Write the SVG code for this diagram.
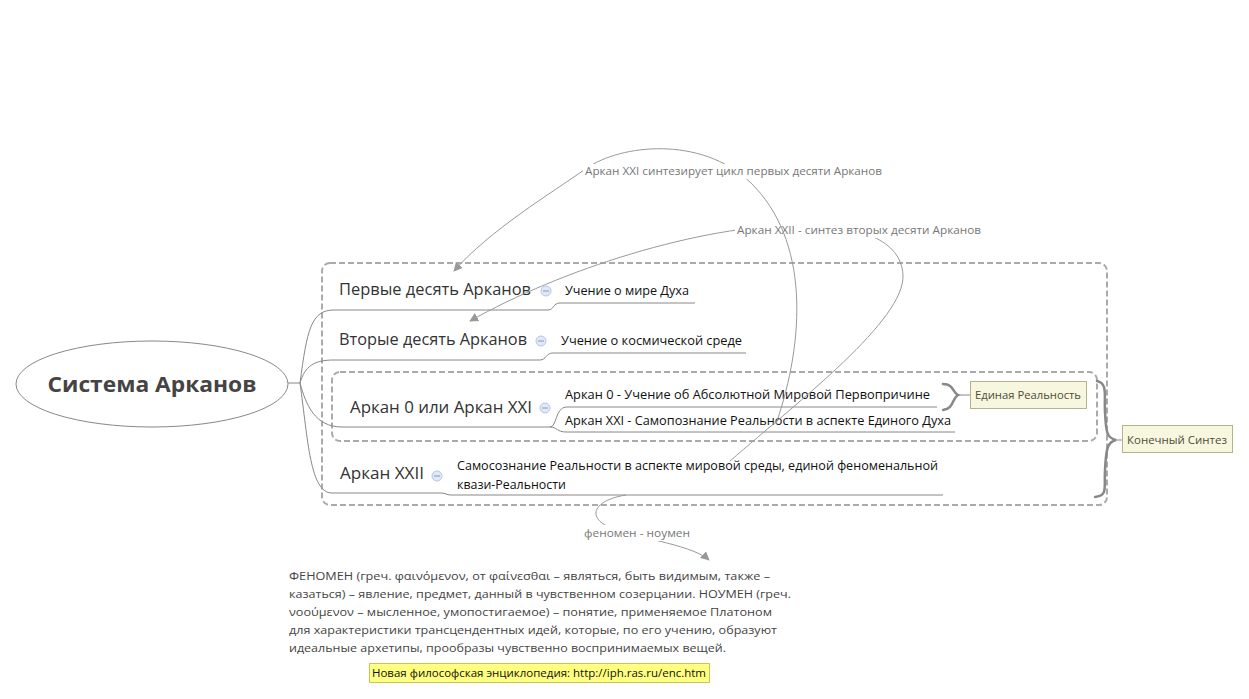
<svg xmlns="http://www.w3.org/2000/svg" width="1249" height="699" viewBox="0 0 1249 699">
<style>
  text { font-family: "Open Sans", "Noto Sans", "DejaVu Sans", sans-serif; }
  .topic { font-size: 16px; fill: #333; }
  .sub { font-size: 12.5px; fill: #111; }
  .rel { font-size: 11px; fill: #777; }
  .note { font-size: 11.5px; fill: #444; }
  .conn { fill: none; stroke: #888; stroke-width: 1; }
  .relc { fill: none; stroke: #999; stroke-width: 1; }
  .dash { fill: none; stroke: #aaa; stroke-width: 2; stroke-dasharray: 6 3; }
  .brace { fill: none; stroke: #888; stroke-width: 2.5; stroke-linecap: round; }
  .icon circle { fill: #e2e9f5; stroke: #b4c5e6; stroke-width: 1; }
  .icon line { stroke: #8ea6d6; stroke-width: 1.2; }
  .label rect { fill: #f7f7df; stroke: #b3b38c; stroke-width: 1; }
  .label text { font-size: 11.5px; fill: #4d4d3a; }
</style>
<defs>
  <marker id="arr" viewBox="0 0 10 10" refX="9" refY="5" markerWidth="9" markerHeight="9" markerUnits="userSpaceOnUse" orient="auto">
    <path d="M0,0 L10,5 L0,10 z" fill="#999"/>
  </marker>
</defs>
<rect width="1249" height="699" fill="#fff"/>

<!-- boundaries -->
<g id="boundaries">
  <rect class="dash" x="322" y="263" width="785" height="242" rx="8"/>
  <rect class="dash" x="332" y="372" width="765" height="69" rx="8"/>
</g>

<!-- connectors -->
<g id="connectors">
  <path class="conn" d="M288,383 L300,383"/>
  <path class="conn" d="M300,383 C307,330 311,310 334,310 L548,310 C554,310 553,303 560,303 L695,303"/>
  <path class="conn" d="M300,383 C305,366 314,360 334,360 L540,360 C546,360 546,353 553,353 L746,353"/>
  <path class="conn" d="M300,383 C306,405 315,427 342,427 L550,427 C557,427 555,408 566,407 L937,407"/>
  <path class="conn" d="M550,427 C557,427 557,432 566,432 L955,432"/>
  <path class="conn" d="M300,383 C308,440 310,493 332,493 L441,493 C446,493 446,495 451,495 L943,495"/>
</g>

<!-- braces -->
<g id="summary-braces">
  <path class="brace" d="M943,384 C954,384 952,392 958,395 C952,398 954,409 943,410"/>
  <path class="conn" d="M958,395 L970,395"/>
  <path class="brace" d="M1097,381 C1108,383 1104,396 1105,412 C1106,433 1107,438 1116,440 C1107,442 1106,450 1105,470 C1104,488 1108,496 1095,497"/>
  <path class="conn" d="M1116,440 L1122,440"/>
</g>

<!-- central topic -->
<g id="central">
  <ellipse cx="152" cy="384" rx="136" ry="43" fill="#fff" stroke="#888" stroke-width="1"/>
  <text x="152" y="392" text-anchor="middle" font-size="22" font-weight="bold" fill="#444" textLength="209" lengthAdjust="spacingAndGlyphs">Система Арканов</text>
</g>

<g id="topic-first">
  <text class="topic" x="339" y="295" textLength="192" lengthAdjust="spacingAndGlyphs">Первые десять Арканов</text>
  <g class="icon"><circle cx="546" cy="291" r="5"/><line x1="543" y1="291" x2="549" y2="291"/></g>
</g>
<g id="sub-first"><text class="sub" x="565" y="295" textLength="124" lengthAdjust="spacingAndGlyphs">Учение о мире Духа</text></g>

<g id="topic-second">
  <text class="topic" x="339" y="345" textLength="188" lengthAdjust="spacingAndGlyphs">Вторые десять Арканов</text>
  <g class="icon"><circle cx="541" cy="341" r="5"/><line x1="538" y1="341" x2="544" y2="341"/></g>
</g>
<g id="sub-second"><text class="sub" x="561" y="345" textLength="181" lengthAdjust="spacingAndGlyphs">Учение о космической среде</text></g>

<g id="topic-zero">
  <text class="topic" x="350" y="413" textLength="182" lengthAdjust="spacingAndGlyphs">Аркан 0 или Аркан XXI</text>
  <g class="icon"><circle cx="545" cy="408" r="5"/><line x1="542" y1="408" x2="548" y2="408"/></g>
</g>
<g id="sub-zero-a"><text class="sub" x="565" y="399" textLength="365" lengthAdjust="spacingAndGlyphs">Аркан 0 - Учение об Абсолютной Мировой Первопричине</text></g>
<g id="sub-zero-b"><text class="sub" x="565" y="425" textLength="386" lengthAdjust="spacingAndGlyphs">Аркан XXI - Самопознание Реальности в аспекте Единого Духа</text></g>

<g id="topic-xxii">
  <text class="topic" x="340" y="479" textLength="84" lengthAdjust="spacingAndGlyphs">Аркан XXII</text>
  <g class="icon"><circle cx="437" cy="476" r="5"/><line x1="434" y1="476" x2="440" y2="476"/></g>
</g>
<g id="sub-xxii">
  <text class="sub" x="457" y="470" textLength="481" lengthAdjust="spacingAndGlyphs">Самосознание Реальности в аспекте мировой среды, единой феноменальной</text>
  <text class="sub" x="457" y="489" textLength="109" lengthAdjust="spacingAndGlyphs">квази-Реальности</text>
</g>

<g id="label-unity" class="label">
  <rect x="970.5" y="381.5" width="116" height="27"/>
  <text x="975" y="399" textLength="106" lengthAdjust="spacingAndGlyphs">Единая Реальность</text>
</g>
<g id="label-final" class="label">
  <rect x="1122.5" y="425.5" width="110" height="27"/>
  <text x="1127" y="444" textLength="100" lengthAdjust="spacingAndGlyphs">Конечный Синтез</text>
</g>

<!-- relationships -->
<g id="relationships">
  <path class="relc" d="M730,461 C800,400 905,320 903,275 C901,240 860,225 800,225 C700,225 560,270 470,321" marker-end="url(#arr)"/>
  <rect x="735" y="222" width="250" height="16" fill="#fff"/>
  <text class="rel" x="737" y="234" textLength="244" lengthAdjust="spacingAndGlyphs">Аркан XXII - синтез вторых десяти Арканов</text>

  <path class="relc" d="M776,424 C805,340 810,240 750,182 C700,135 620,145 587,168 C550,194 490,230 454,271" marker-end="url(#arr)"/>
  <rect x="583" y="164" width="302" height="15" fill="#fff"/>
  <text class="rel" x="585" y="175" textLength="297" lengthAdjust="spacingAndGlyphs">Аркан XXI синтезирует цикл первых десяти Арканов</text>

  <path class="relc" d="M626,495 C595,500 588,515 605,525 C625,537 690,543 709,560" marker-end="url(#arr)"/>
  <rect x="582" y="525" width="110" height="16" fill="#fff"/>
  <text class="rel" x="584" y="537" textLength="106" lengthAdjust="spacingAndGlyphs">феномен - ноумен</text>
</g>

<!-- note -->
<g id="note">
  <text class="note" x="289" y="580" textLength="481" lengthAdjust="spacingAndGlyphs">ФЕНОМЕН (греч. φαινόμενον, от φαίνεσθαι – являться, быть видимым, также –</text>
  <text class="note" x="289" y="598" textLength="502" lengthAdjust="spacingAndGlyphs">казаться) – явление, предмет, данный в чувственном созерцании. НОУМЕН (греч.</text>
  <text class="note" x="289" y="616" textLength="483" lengthAdjust="spacingAndGlyphs">νοούμενον – мысленное, умопостигаемое) – понятие, применяемое Платоном</text>
  <text class="note" x="289" y="634" textLength="488" lengthAdjust="spacingAndGlyphs">для характеристики трансцендентных идей, которые, по его учению, образуют</text>
  <text class="note" x="289" y="652" textLength="437" lengthAdjust="spacingAndGlyphs">идеальные архетипы, прообразы чувственно воспринимаемых вещей.</text>
</g>
<g id="source">
  <rect x="369.5" y="663.5" width="340" height="19" fill="#ffff80" stroke="#c6c65a" stroke-width="1"/>
  <text x="372" y="677" font-size="11.5" fill="#111" textLength="334" lengthAdjust="spacingAndGlyphs">Новая философская энциклопедия: http://iph.ras.ru/enc.htm</text>
</g>
</svg>
